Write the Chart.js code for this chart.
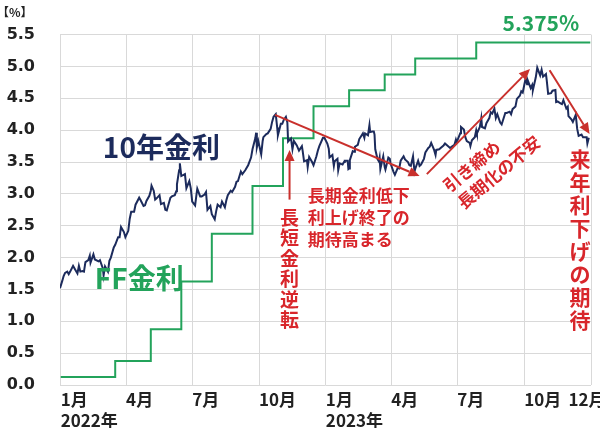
<!DOCTYPE html>
<html>
<head>
<meta charset="utf-8">
<script src="https://cdn.jsdelivr.net/npm/chart.js@4.4.1/dist/chart.umd.min.js"></script>
<style>
html,body{margin:0;padding:0;background:#fff;}
#wrap{width:600px;height:428px;position:relative;}
</style>
</head>
<body>
<div id="wrap"><canvas id="c"></canvas></div>
<script>
// ---------- DATA ----------
const tenYearDates = [
"2021-12-31","2022-01-03","2022-01-05","2022-01-07","2022-01-10","2022-01-12","2022-01-14","2022-01-18","2022-01-20","2022-01-24","2022-01-26","2022-01-28","2022-01-31",
"2022-02-02","2022-02-04","2022-02-08","2022-02-10","2022-02-11","2022-02-15","2022-02-17","2022-02-22","2022-02-24","2022-02-28",
"2022-03-01","2022-03-03","2022-03-07","2022-03-09","2022-03-11","2022-03-15","2022-03-17","2022-03-21","2022-03-23","2022-03-25","2022-03-29","2022-03-31",
"2022-04-04","2022-04-06","2022-04-08","2022-04-12","2022-04-14","2022-04-19","2022-04-21","2022-04-25","2022-04-27","2022-04-29",
"2022-05-03","2022-05-05","2022-05-06","2022-05-09","2022-05-11","2022-05-13","2022-05-17","2022-05-19","2022-05-23","2022-05-25","2022-05-27",
"2022-06-01","2022-06-03","2022-06-07","2022-06-09","2022-06-10","2022-06-13","2022-06-14","2022-06-16","2022-06-21","2022-06-23","2022-06-27","2022-06-29",
"2022-07-01","2022-07-05","2022-07-07","2022-07-08","2022-07-12","2022-07-14","2022-07-18","2022-07-20","2022-07-22","2022-07-26","2022-07-28",
"2022-08-01","2022-08-03","2022-08-05","2022-08-09","2022-08-11","2022-08-15","2022-08-17","2022-08-19","2022-08-23","2022-08-25","2022-08-29","2022-08-31",
"2022-09-02","2022-09-06","2022-09-08","2022-09-12","2022-09-14","2022-09-16","2022-09-20","2022-09-22","2022-09-26","2022-09-27","2022-09-28","2022-09-30",
"2022-10-04","2022-10-06","2022-10-07","2022-10-11","2022-10-13","2022-10-17","2022-10-19","2022-10-21","2022-10-24","2022-10-26","2022-10-27","2022-10-31",
"2022-11-02","2022-11-04","2022-11-07","2022-11-09","2022-11-10","2022-11-14","2022-11-16","2022-11-18","2022-11-22","2022-11-25","2022-11-29","2022-11-30",
"2022-12-02","2022-12-06","2022-12-07","2022-12-09","2022-12-13","2022-12-15","2022-12-19","2022-12-21","2022-12-23","2022-12-28","2022-12-30",
"2023-01-03","2023-01-05","2023-01-06","2023-01-10","2023-01-12","2023-01-13","2023-01-17","2023-01-18","2023-01-20","2023-01-24","2023-01-26","2023-01-27","2023-01-31",
"2023-02-01","2023-02-02","2023-02-03","2023-02-07","2023-02-09","2023-02-10","2023-02-14","2023-02-16","2023-02-21","2023-02-23","2023-02-24","2023-02-28",
"2023-03-02","2023-03-03","2023-03-06","2023-03-08","2023-03-09","2023-03-10","2023-03-13","2023-03-15","2023-03-16","2023-03-17","2023-03-21","2023-03-23","2023-03-24","2023-03-28","2023-03-30","2023-03-31",
"2023-04-04","2023-04-06","2023-04-10","2023-04-12","2023-04-14","2023-04-18","2023-04-20","2023-04-24","2023-04-26","2023-04-28",
"2023-05-01","2023-05-03","2023-05-04","2023-05-08","2023-05-10","2023-05-12","2023-05-16","2023-05-18","2023-05-22","2023-05-24","2023-05-26","2023-05-30",
"2023-06-01","2023-06-02","2023-06-06","2023-06-08","2023-06-12","2023-06-14","2023-06-16","2023-06-21","2023-06-23","2023-06-27","2023-06-29","2023-06-30",
"2023-07-05","2023-07-06","2023-07-10","2023-07-12","2023-07-14","2023-07-18","2023-07-19","2023-07-21","2023-07-25","2023-07-27","2023-07-28",
"2023-08-01","2023-08-03","2023-08-04","2023-08-08","2023-08-10","2023-08-14","2023-08-16","2023-08-18","2023-08-21","2023-08-23","2023-08-25","2023-08-29","2023-08-31",
"2023-09-05","2023-09-07","2023-09-11","2023-09-13","2023-09-15","2023-09-19","2023-09-21","2023-09-25","2023-09-27","2023-09-29",
"2023-10-03","2023-10-05","2023-10-06","2023-10-10","2023-10-12","2023-10-13","2023-10-17","2023-10-19","2023-10-23","2023-10-25","2023-10-27","2023-10-31",
"2023-11-01","2023-11-03","2023-11-07","2023-11-09","2023-11-13","2023-11-14","2023-11-16","2023-11-20","2023-11-22","2023-11-24","2023-11-28","2023-11-30",
"2023-12-01","2023-12-05","2023-12-07","2023-12-11","2023-12-13","2023-12-15","2023-12-19","2023-12-21","2023-12-26","2023-12-27","2023-12-29"
];
const tenYearValues = [
1.52,1.63,1.71,1.76,1.78,1.74,1.78,1.87,1.83,1.75,1.87,1.78,1.79,
1.78,1.93,1.96,2.03,1.92,2.05,1.97,1.94,1.96,1.83,
1.72,1.86,1.78,1.95,2.00,2.16,2.20,2.32,2.32,2.48,2.40,2.32,
2.42,2.61,2.72,2.72,2.83,2.94,2.90,2.81,2.82,2.89,
2.97,3.05,3.13,3.05,2.91,2.93,2.98,2.84,2.86,2.75,2.74,
2.94,2.96,2.98,3.04,3.15,3.37,3.48,3.28,3.31,3.09,3.20,3.09,
2.88,2.82,3.00,3.08,2.96,2.96,2.99,3.03,2.75,2.81,2.68,
2.60,2.73,2.83,2.79,2.88,2.79,2.90,2.98,3.05,3.03,3.11,3.19,
3.20,3.35,3.31,3.37,3.41,3.45,3.57,3.70,3.88,3.96,3.73,3.83,
3.62,3.83,3.89,3.94,3.95,4.02,4.13,4.21,4.25,4.04,3.92,4.10,
4.10,4.16,4.21,4.12,3.82,3.87,3.70,3.83,3.76,3.68,3.75,3.68,
3.51,3.53,3.42,3.58,3.50,3.45,3.59,3.68,3.75,3.88,3.88,
3.79,3.71,3.57,3.61,3.44,3.51,3.55,3.37,3.48,3.46,3.50,3.52,3.52,
3.39,3.40,3.53,3.67,3.66,3.74,3.77,3.86,3.95,3.88,3.95,3.92,
4.08,3.97,3.98,3.98,3.93,3.70,3.55,3.51,3.57,3.39,3.59,3.42,3.38,3.57,3.55,3.48,
3.35,3.30,3.41,3.40,3.52,3.59,3.54,3.50,3.45,3.44,
3.59,3.35,3.39,3.52,3.44,3.46,3.55,3.65,3.72,3.74,3.80,3.69,
3.61,3.69,3.70,3.72,3.76,3.79,3.77,3.72,3.74,3.77,3.85,3.81,
3.95,4.05,4.01,3.89,3.83,3.80,3.75,3.84,3.89,4.00,3.95,
4.05,4.19,4.05,4.03,4.11,4.19,4.28,4.26,4.34,4.19,4.25,4.12,4.09,
4.27,4.27,4.29,4.25,4.33,4.37,4.49,4.54,4.61,4.59,
4.81,4.72,4.78,4.66,4.71,4.63,4.83,4.98,4.86,4.95,4.84,4.88,
4.79,4.57,4.58,4.62,4.63,4.44,4.45,4.42,4.41,4.47,4.34,4.37,
4.22,4.17,4.13,4.24,4.02,3.91,3.93,3.89,3.89,3.79,3.88
];
const ffDates = ["2022-01-01","2022-03-17","2022-05-05","2022-06-16","2022-07-28","2022-09-22","2022-11-03","2022-12-15","2023-02-02","2023-03-23","2023-05-04","2023-07-27","2023-12-31"];
const ffValues = [0.125,0.375,0.875,1.625,2.375,3.125,3.875,4.375,4.625,4.875,5.125,5.375,5.375];
const xTickDates = ["2022-01-01","2022-04-01","2022-07-01","2022-10-01","2023-01-01","2023-04-01","2023-07-01","2023-10-01","2023-12-01","2024-01-01"];
const xTickLabels = [["1月","2022年"],"4月","7月","10月",["1月","2023年"],"4月","7月","10月","12月",""];
const yTicks = [0,0.5,1,1.5,2,2.5,3,3.5,4,4.5,5,5.5];

// ---------- helpers ----------
const base = Date.UTC(2022,0,1);
function dayOf(s){const p=s.split('-').map(Number);return (Date.UTC(p[0],p[1]-1,p[2])-base)/86400000;}
const tenYearPoints = tenYearDates.map((d,i)=>({x:dayOf(d),y:tenYearValues[i]}));
const ffPoints = ffDates.map((d,i)=>({x:dayOf(d),y:ffValues[i]}));
const xTickDays = xTickDates.map(dayOf);
const noGridDay = dayOf("2023-12-01");

// annotations (in data coordinates)
const RED_TXT = '#d8262b', RED_ARROW = '#c9302c', NAVY = '#1c2b5c', GREEN = '#23a35b';
const JP = "'Noto Sans CJK JP'";
const arrows = [
  {from:["2022-11-12",2.91], to:["2022-11-12",3.69]},
  {from:["2022-10-23",4.24], to:["2023-05-10",3.28]},
  {from:["2023-05-20",3.31], to:["2023-10-09",4.96]},
  {from:["2023-11-05",4.94], to:["2023-12-30",3.94]}
];
const texts = [
  {t:"10年金利", at:["2022-02-28",3.73], font:"bold 28px "+JP, color:NAVY, align:'left'},
  {t:"FF金利", at:["2022-02-17",1.67], font:"bold 28px "+JP, color:GREEN, align:'left'},
  {t:"5.375%", at:["2023-10-24",5.685], font:"bold 21px "+JP, color:GREEN, align:'center'},
  {t:"長期金利低下", at:["2022-12-07",2.976], font:"bold 17px "+JP, color:RED_TXT, align:'left'},
  {t:"利上げ終了の", at:["2022-12-07",2.976], dy:22, font:"bold 17px "+JP, color:RED_TXT, align:'left'},
  {t:"期待高まる", at:["2022-12-07",2.976], dy:44, font:"bold 17px "+JP, color:RED_TXT, align:'left'}
];
const vtexts = [
  {t:"長短金利逆転", at:["2022-11-12",2.63], pitch:20.5, font:"bold 19px "+JP},
  {t:"来年利下げの期待", at:["2023-12-17",3.54], pitch:23, font:"bold 21px "+JP}
];
const rtexts = [
  {lines:["引き締め","長期化の不安"], at:["2023-06-15",3.09], angle:-40, lh:22, font:"bold 17px "+JP}
];

const annot = {
  id:'annot',
  afterDatasetsDraw(chart){
    const ctx = chart.ctx, xs = chart.scales.x, ys = chart.scales.y;
    const P = a => [xs.getPixelForValue(dayOf(a[0])), ys.getPixelForValue(a[1])];
    ctx.save();
    arrows.forEach(a=>{
      const [x1,y1]=P(a.from),[x2,y2]=P(a.to);
      const ang=Math.atan2(y2-y1,x2-x1), L=11, W=5;
      const bx=x2-L*Math.cos(ang), by=y2-L*Math.sin(ang);
      ctx.strokeStyle=RED_ARROW; ctx.fillStyle=RED_ARROW; ctx.lineWidth=2;
      ctx.beginPath(); ctx.moveTo(x1,y1); ctx.lineTo(bx,by); ctx.stroke();
      ctx.beginPath(); ctx.moveTo(x2,y2);
      ctx.lineTo(bx+W*Math.sin(ang), by-W*Math.cos(ang));
      ctx.lineTo(bx-W*Math.sin(ang), by+W*Math.cos(ang));
      ctx.closePath(); ctx.fill();
    });
    ctx.textBaseline='middle';
    texts.forEach(o=>{
      const [x,y]=P(o.at);
      ctx.font=o.font; ctx.fillStyle=o.color; ctx.textAlign=o.align;
      ctx.fillText(o.t,x,y+(o.dy||0));
    });
    vtexts.forEach(o=>{
      const [x,y]=P(o.at);
      ctx.font=o.font; ctx.fillStyle=RED_TXT; ctx.textAlign='center';
      [...o.t].forEach((ch,i)=>ctx.fillText(ch,x,y+i*o.pitch));
    });
    rtexts.forEach(o=>{
      const [x,y]=P(o.at);
      ctx.save(); ctx.translate(x,y); ctx.rotate(o.angle*Math.PI/180);
      ctx.font=o.font; ctx.fillStyle=RED_TXT; ctx.textAlign='left';
      o.lines.forEach((l,i)=>ctx.fillText(l,0,i*o.lh));
      ctx.restore();
    });
    ctx.font="bold 12px "+JP; ctx.fillStyle='#222'; ctx.textAlign='left';
    ctx.fillText("【%】",-3,12);
    ctx.restore();
  }
};

new Chart(document.getElementById('c'),{
  type:'line',
  data:{datasets:[
    {label:'10年金利', data:tenYearPoints, borderColor:NAVY, borderWidth:2, pointRadius:0, tension:0, fill:false},
    {label:'FF金利', data:ffPoints, borderColor:GREEN, borderWidth:2, pointRadius:0, stepped:'before', fill:false}
  ]},
  options:{
    responsive:true, maintainAspectRatio:false, animation:false,
    layout:{padding:{left:0,right:9,top:27,bottom:0}},
    plugins:{legend:{display:false}, tooltip:{enabled:false}},
    scales:{
      x:{type:'linear', min:-1, max:730,
        afterBuildTicks:s=>{s.ticks=xTickDays.map(v=>({value:v}));},
        afterFit:s=>{s.paddingRight=0; s.paddingLeft=0; s.height=43;},
        ticks:{autoSkip:false, maxRotation:0, align:'start', padding:4, color:'#222',
          font:{family:JP, size:17, weight:'bold', lineHeight:1.22},
          callback:(v)=>{const i=xTickDays.indexOf(v);return i>=0?xTickLabels[i]:'';}},
        grid:{drawTicks:false, color:c=>(c.tick&&c.tick.value===noGridDay)?'rgba(0,0,0,0)':'#d9d9d9', lineWidth:1},
        border:{display:false}
      },
      y:{min:0, max:5.5,
        afterBuildTicks:s=>{s.ticks=yTicks.map(v=>({value:v}));},
        afterFit:s=>{s.width=60;},
        ticks:{padding:25, color:'#222', font:{family:"'DejaVu Sans'", size:16, weight:'bold'},
          callback:v=>Number(v).toFixed(1)},
        grid:{drawTicks:false, color:'#d9d9d9', lineWidth:1},
        border:{display:false}
      }
    }
  },
  plugins:[annot]
});
</script>
</body>
</html>
